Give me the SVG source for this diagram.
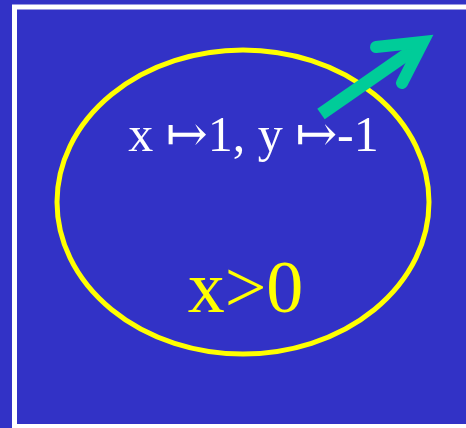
<svg xmlns="http://www.w3.org/2000/svg" width="466" height="428" viewBox="0 0 466 428">
<style>
.lbl{font-family:"Liberation Serif","DejaVu Serif",serif;text-anchor:middle}
</style>
<rect x="0" y="0" width="466" height="428" fill="#3232C6"/>
<rect x="14.5" y="7" width="470" height="419.5" fill="none" stroke="#FFFFFF" stroke-width="5"/>
<g id="region">
<ellipse cx="243" cy="202" rx="186" ry="152" fill="none" stroke="#FFFF00" stroke-width="5"/>
<text class="lbl" x="253.5" y="151" font-size="50" fill="#FFFFFF">x ↦1, y ↦-1</text>
<text class="lbl" x="245.5" y="312" font-size="74" fill="#FFFF00">x&gt;0</text>
</g>
<g id="connectors">
<line x1="321" y1="114" x2="416" y2="48" stroke="#00CC99" stroke-width="13"/>
<polyline points="376,47 423,42 402,83" fill="none" stroke="#00CC99" stroke-width="12" stroke-linecap="round" stroke-linejoin="miter" stroke-miterlimit="10"/>
</g>
</svg>
